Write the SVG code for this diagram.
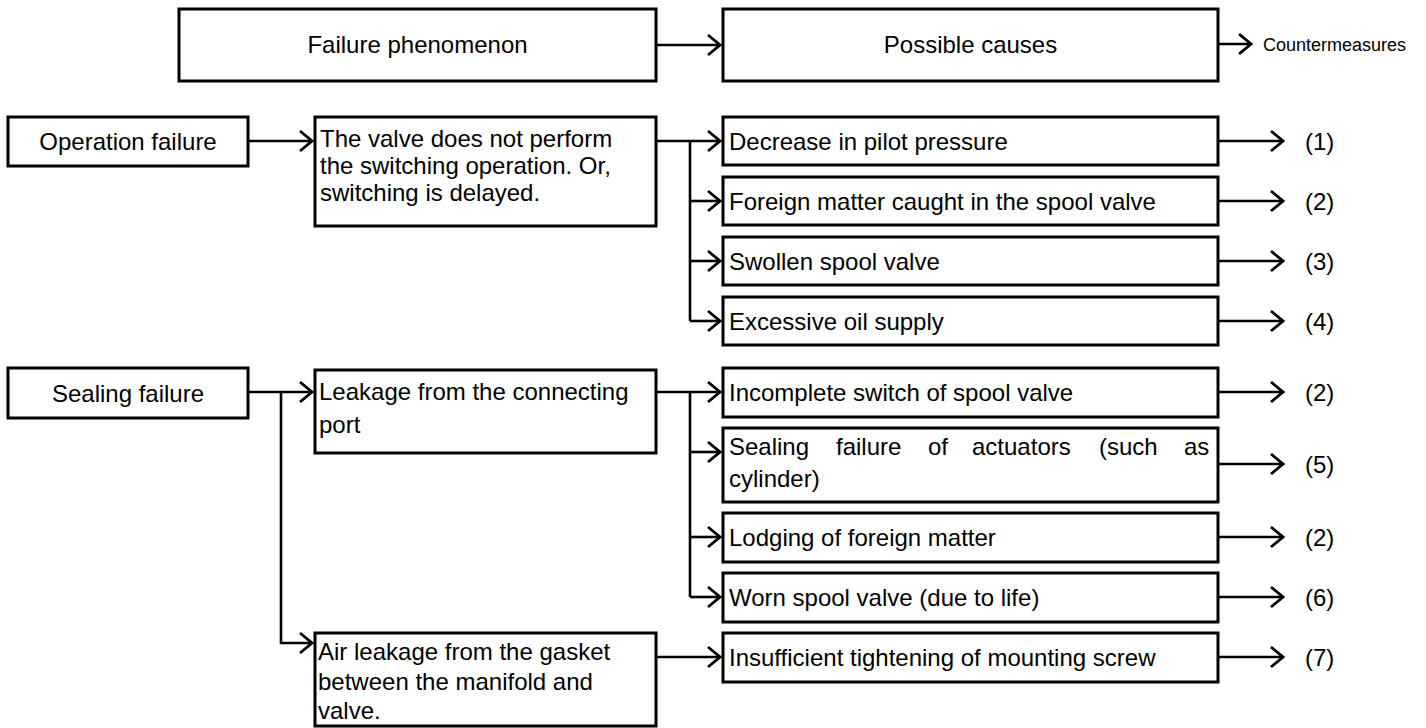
<svg xmlns="http://www.w3.org/2000/svg" width="1426" height="728" viewBox="0 0 1426 728">
<style>
  .box { fill: #fff; stroke: #000; stroke-width: 3; }
  .t { font-family: "Liberation Sans", Arial, sans-serif; font-size: 24px; fill: #000; }
  .c { text-anchor: middle; }
  .small { font-size: 18px; }
  .line { fill: none; stroke: #000; stroke-width: 2.6; }
</style>
<defs>
  <marker id="arr" markerUnits="userSpaceOnUse" viewBox="-15 -12 17 24" markerWidth="17" markerHeight="24" refX="0" refY="0" orient="auto">
    <path d="M-12,-10 L0,0 L-12,10" fill="none" stroke="#000" stroke-width="2.8"/>
  </marker>
</defs>
<rect width="1426" height="728" fill="#fff"/>

<g id="connectors">
  <path class="line" d="M656,45 H720" marker-end="url(#arr)"/>
  <path class="line" d="M1218,44 H1251" marker-end="url(#arr)"/>
  <path class="line" d="M248,141 H312" marker-end="url(#arr)"/>
  <path class="line" d="M656,141 H720" marker-end="url(#arr)"/>
  <path class="line" d="M690,141 V321"/>
  <path class="line" d="M690,201 H720" marker-end="url(#arr)"/>
  <path class="line" d="M690,261 H720" marker-end="url(#arr)"/>
  <path class="line" d="M690,321 H720" marker-end="url(#arr)"/>
  <path class="line" d="M248,392 H312" marker-end="url(#arr)"/>
  <path class="line" d="M281,392 V643 H312" marker-end="url(#arr)"/>
  <path class="line" d="M656,392 H720" marker-end="url(#arr)"/>
  <path class="line" d="M690,392 V597"/>
  <path class="line" d="M690,452 H720" marker-end="url(#arr)"/>
  <path class="line" d="M690,537 H720" marker-end="url(#arr)"/>
  <path class="line" d="M690,597 H720" marker-end="url(#arr)"/>
  <path class="line" d="M656,657 H720" marker-end="url(#arr)"/>
  <path class="line" d="M1218,141 H1283" marker-end="url(#arr)"/>
  <path class="line" d="M1218,201 H1283" marker-end="url(#arr)"/>
  <path class="line" d="M1218,261 H1283" marker-end="url(#arr)"/>
  <path class="line" d="M1218,321 H1283" marker-end="url(#arr)"/>
  <path class="line" d="M1218,392 H1283" marker-end="url(#arr)"/>
  <path class="line" d="M1218,464 H1283" marker-end="url(#arr)"/>
  <path class="line" d="M1218,537 H1283" marker-end="url(#arr)"/>
  <path class="line" d="M1218,597 H1283" marker-end="url(#arr)"/>
  <path class="line" d="M1218,657 H1283" marker-end="url(#arr)"/>
</g>

<g id="hdr-phenomenon">
  <rect class="box" x="179" y="9" width="477" height="72"/>
  <text class="t c" x="417.5" y="53">Failure phenomenon</text>
</g>
<g id="hdr-causes">
  <rect class="box" x="723" y="9" width="495" height="72"/>
  <text class="t c" x="970.5" y="53">Possible causes</text>
</g>
<g id="hdr-countermeasures">
  <text class="t small" x="1263" y="51">Countermeasures</text>
</g>

<g id="operation-failure">
  <rect class="box" x="8" y="117" width="240" height="49"/>
  <text class="t c" x="128" y="150">Operation failure</text>
</g>
<g id="phen-switching">
  <rect class="box" x="315" y="117" width="341" height="109"/>
  <text class="t" x="320" y="147">The valve does not perform</text>
  <text class="t" x="320" y="174">the switching operation. Or,</text>
  <text class="t" x="320" y="201">switching is delayed.</text>
</g>

<g id="sealing-failure">
  <rect class="box" x="8" y="368" width="240" height="50"/>
  <text class="t c" x="128" y="401.5">Sealing failure</text>
</g>
<g id="phen-leak-port">
  <rect class="box" x="315" y="370" width="341" height="83"/>
  <text class="t" x="319" y="400">Leakage from the connecting</text>
  <text class="t" x="319" y="433">port</text>
</g>
<g id="phen-air-leak">
  <rect class="box" x="315" y="633" width="341" height="93"/>
  <text class="t" x="318" y="660">Air leakage from the gasket</text>
  <text class="t" x="318" y="690">between the manifold and</text>
  <text class="t" x="318" y="719">valve.</text>
</g>

<g id="cause-1">
  <rect class="box" x="723" y="117" width="495" height="48"/>
  <text class="t" x="729" y="150">Decrease in pilot pressure</text>
</g>
<g id="cause-2">
  <rect class="box" x="723" y="177" width="495" height="48"/>
  <text class="t" x="729" y="210">Foreign matter caught in the spool valve</text>
</g>
<g id="cause-3">
  <rect class="box" x="723" y="237" width="495" height="48"/>
  <text class="t" x="729" y="270">Swollen spool valve</text>
</g>
<g id="cause-4">
  <rect class="box" x="723" y="297" width="495" height="48"/>
  <text class="t" x="729" y="330">Excessive oil supply</text>
</g>
<g id="cause-5">
  <rect class="box" x="723" y="368" width="495" height="49"/>
  <text class="t" x="729" y="401">Incomplete switch of spool valve</text>
</g>
<g id="cause-6">
  <rect class="box" x="723" y="428" width="495" height="74"/>
  <text class="t" y="455"><tspan x="729">Sealing</tspan><tspan x="836">failure</tspan><tspan x="928">of</tspan><tspan x="972">actuators</tspan><tspan x="1099">(such</tspan><tspan x="1184">as</tspan></text>
  <text class="t" x="729" y="487">cylinder)</text>
</g>
<g id="cause-7">
  <rect class="box" x="723" y="513" width="495" height="49"/>
  <text class="t" x="729" y="546">Lodging of foreign matter</text>
</g>
<g id="cause-8">
  <rect class="box" x="723" y="573" width="495" height="49"/>
  <text class="t" x="729" y="606">Worn spool valve (due to life)</text>
</g>
<g id="cause-9">
  <rect class="box" x="723" y="633" width="495" height="49"/>
  <text class="t" x="729" y="666">Insufficient tightening of mounting screw</text>
</g>

<g id="countermeasure-labels">
  <text class="t" x="1305" y="150">(1)</text>
  <text class="t" x="1305" y="210">(2)</text>
  <text class="t" x="1305" y="270">(3)</text>
  <text class="t" x="1305" y="330">(4)</text>
  <text class="t" x="1305" y="401">(2)</text>
  <text class="t" x="1305" y="473">(5)</text>
  <text class="t" x="1305" y="546">(2)</text>
  <text class="t" x="1305" y="606">(6)</text>
  <text class="t" x="1305" y="666">(7)</text>
</g>
</svg>
